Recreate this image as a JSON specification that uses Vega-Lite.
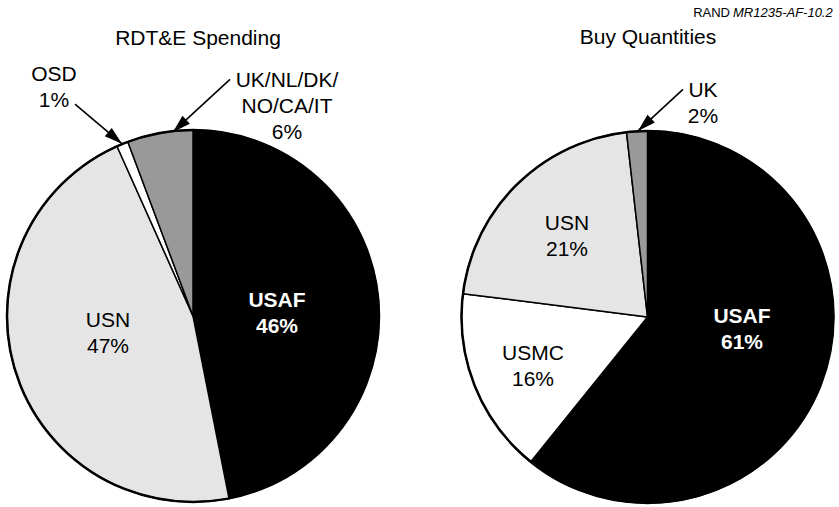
{
  "$schema": "https://vega.github.io/schema/vega-lite/v6.json",
  "width": 839,
  "height": 507,
  "autosize": {"type": "fit", "contains": "padding"},
  "padding": 0,
  "background": "white",
  "config": {"view": {"stroke": null}, "text": {"font": "Liberation Sans"}},
  "datasets": {
    "slices": [
      {"pie": "RDT&E Spending", "service": "USAF", "order": 1, "value": 46.9},
      {"pie": "RDT&E Spending", "service": "USN", "order": 2, "value": 46.4},
      {"pie": "RDT&E Spending", "service": "OSD", "order": 3, "value": 1.0},
      {"pie": "RDT&E Spending", "service": "UK/NL/DK/NO/CA/IT", "order": 4, "value": 5.7},
      {"pie": "Buy Quantities", "service": "USAF", "order": 1, "value": 60.8},
      {"pie": "Buy Quantities", "service": "USMC", "order": 2, "value": 16.2},
      {"pie": "Buy Quantities", "service": "USN", "order": 3, "value": 21.2},
      {"pie": "Buy Quantities", "service": "UK", "order": 4, "value": 1.8}
    ],
    "pies": [
      {"pie": "RDT&E Spending", "cx": 193, "cy": 318.5},
      {"pie": "Buy Quantities", "cx": 647.5, "cy": 319.5}
    ],
    "labels": [
      {"label": "RDT&E Spending", "x": 198, "y": 39, "service": "title"},
      {"label": "Buy Quantities", "x": 648, "y": 38, "service": "title"},
      {"label": "OSD\n1%", "x": 54, "y": 76, "service": "OSD"},
      {"label": "UK/NL/DK/\nNO/CA/IT\n6%", "x": 287, "y": 82, "service": "UK/NL/DK/NO/CA/IT"},
      {"label": "USAF\n46%", "x": 277, "y": 303, "service": "USAF"},
      {"label": "USN\n47%", "x": 108, "y": 324, "service": "USN"},
      {"label": "USN\n21%", "x": 567, "y": 226, "service": "USN"},
      {"label": "USMC\n16%", "x": 533, "y": 357, "service": "USMC"},
      {"label": "USAF\n61%", "x": 742, "y": 320, "service": "USAF"},
      {"label": "UK\n2%", "x": 703, "y": 92, "service": "UK"}
    ],
    "credit": [
      {"part": "RAND ", "x": 730, "y": 13.5, "style": "normal"},
      {"part": "MR1235-AF-10.2", "x": 733, "y": 13.5, "style": "italic"}
    ],
    "arrows": [
      {"target": "OSD", "x": 75, "y": 105, "x2": 122, "y2": 145},
      {"target": "UK/NL/DK/NO/CA/IT", "x": 230, "y": 80, "x2": 173, "y2": 133},
      {"target": "UK", "x": 683, "y": 90, "x2": 638, "y2": 132}
    ]
  },
  "layer": [
    {
      "data": {"name": "slices"},
      "transform": [
        {"lookup": "pie", "from": {"data": {"name": "pies"}, "key": "pie", "fields": ["cx", "cy"]}},
        {"stack": "value", "groupby": ["pie"], "sort": [{"field": "order", "order": "ascending"}], "as": ["v0", "v1"]}
      ],
      "mark": {"type": "arc", "radius": 186, "stroke": "black", "strokeWidth": 1.5, "strokeJoin": "round"},
      "encoding": {
        "x": {"field": "cx", "type": "quantitative", "scale": {"domain": [0, 839], "nice": false, "zero": false}, "axis": null},
        "y": {"field": "cy", "type": "quantitative", "scale": {"domain": [0, 507], "nice": false, "zero": false, "reverse": true}, "axis": null},
        "theta": {"field": "v0", "type": "quantitative", "scale": {"domain": [0, 100], "range": [0, 6.283185307179586]}},
        "theta2": {"field": "v1"},
        "color": {
          "field": "service",
          "type": "nominal",
          "scale": {
            "domain": ["USAF", "USN", "USMC", "OSD", "UK/NL/DK/NO/CA/IT", "UK"],
            "range": ["#000000", "#e5e5e5", "#ffffff", "#ffffff", "#999999", "#999999"]
          },
          "legend": null
        }
      }
    },
    {
      "data": {"name": "pies"},
      "mark": {"type": "point", "shape": "circle", "size": 138384, "filled": false, "stroke": "black", "strokeWidth": 2.5, "opacity": 1},
      "encoding": {
        "x": {"field": "cx", "type": "quantitative", "scale": {"domain": [0, 839], "nice": false, "zero": false}, "axis": null},
        "y": {"field": "cy", "type": "quantitative", "scale": {"domain": [0, 507], "nice": false, "zero": false, "reverse": true}, "axis": null}
      }
    },
    {
      "data": {"name": "labels"},
      "transform": [{"filter": "datum.service != 'USAF'"}],
      "mark": {"type": "text", "fontSize": 21, "lineBreak": "\n", "lineHeight": 26, "align": "center", "baseline": "middle", "color": "black"},
      "encoding": {
        "x": {"field": "x", "type": "quantitative", "scale": {"domain": [0, 839], "nice": false, "zero": false}, "axis": null},
        "y": {"field": "y", "type": "quantitative", "scale": {"domain": [0, 507], "nice": false, "zero": false, "reverse": true}, "axis": null},
        "text": {"field": "label"}
      }
    },
    {
      "data": {"name": "labels"},
      "transform": [{"filter": "datum.service == 'USAF'"}],
      "mark": {"type": "text", "fontSize": 21, "fontWeight": "bold", "lineBreak": "\n", "lineHeight": 26, "align": "center", "baseline": "middle", "color": "white"},
      "encoding": {
        "x": {"field": "x", "type": "quantitative", "scale": {"domain": [0, 839], "nice": false, "zero": false}, "axis": null},
        "y": {"field": "y", "type": "quantitative", "scale": {"domain": [0, 507], "nice": false, "zero": false, "reverse": true}, "axis": null},
        "text": {"field": "label"}
      }
    },
    {
      "data": {"name": "credit"},
      "transform": [{"filter": "datum.style == 'normal'"}],
      "mark": {"type": "text", "fontSize": 13, "align": "right", "baseline": "middle", "color": "black"},
      "encoding": {
        "x": {"field": "x", "type": "quantitative", "scale": {"domain": [0, 839], "nice": false, "zero": false}, "axis": null},
        "y": {"field": "y", "type": "quantitative", "scale": {"domain": [0, 507], "nice": false, "zero": false, "reverse": true}, "axis": null},
        "text": {"field": "part"}
      }
    },
    {
      "data": {"name": "credit"},
      "transform": [{"filter": "datum.style == 'italic'"}],
      "mark": {"type": "text", "fontSize": 13, "fontStyle": "italic", "align": "left", "baseline": "middle", "color": "black"},
      "encoding": {
        "x": {"field": "x", "type": "quantitative", "scale": {"domain": [0, 839], "nice": false, "zero": false}, "axis": null},
        "y": {"field": "y", "type": "quantitative", "scale": {"domain": [0, 507], "nice": false, "zero": false, "reverse": true}, "axis": null},
        "text": {"field": "part"}
      }
    },
    {
      "data": {"name": "arrows"},
      "mark": {"type": "rule", "color": "black", "strokeWidth": 1.6},
      "encoding": {
        "x": {"field": "x", "type": "quantitative", "scale": {"domain": [0, 839], "nice": false, "zero": false}, "axis": null},
        "y": {"field": "y", "type": "quantitative", "scale": {"domain": [0, 507], "nice": false, "zero": false, "reverse": true}, "axis": null},
        "x2": {"field": "x2"},
        "y2": {"field": "y2"}
      }
    },
    {
      "data": {"name": "arrows"},
      "transform": [{"calculate": "atan2(datum.x2 - datum.x, -(datum.y2 - datum.y)) * 180 / PI", "as": "ang"}],
      "mark": {"type": "point", "shape": "M0,0L-0.3,1L0.3,1Z", "size": 1296, "filled": true, "color": "black", "opacity": 1, "strokeWidth": 0},
      "encoding": {
        "x": {"field": "x2", "type": "quantitative", "scale": {"domain": [0, 839], "nice": false, "zero": false}, "axis": null},
        "y": {"field": "y2", "type": "quantitative", "scale": {"domain": [0, 507], "nice": false, "zero": false, "reverse": true}, "axis": null},
        "angle": {"field": "ang", "type": "quantitative", "scale": null}
      }
    }
  ]
}
